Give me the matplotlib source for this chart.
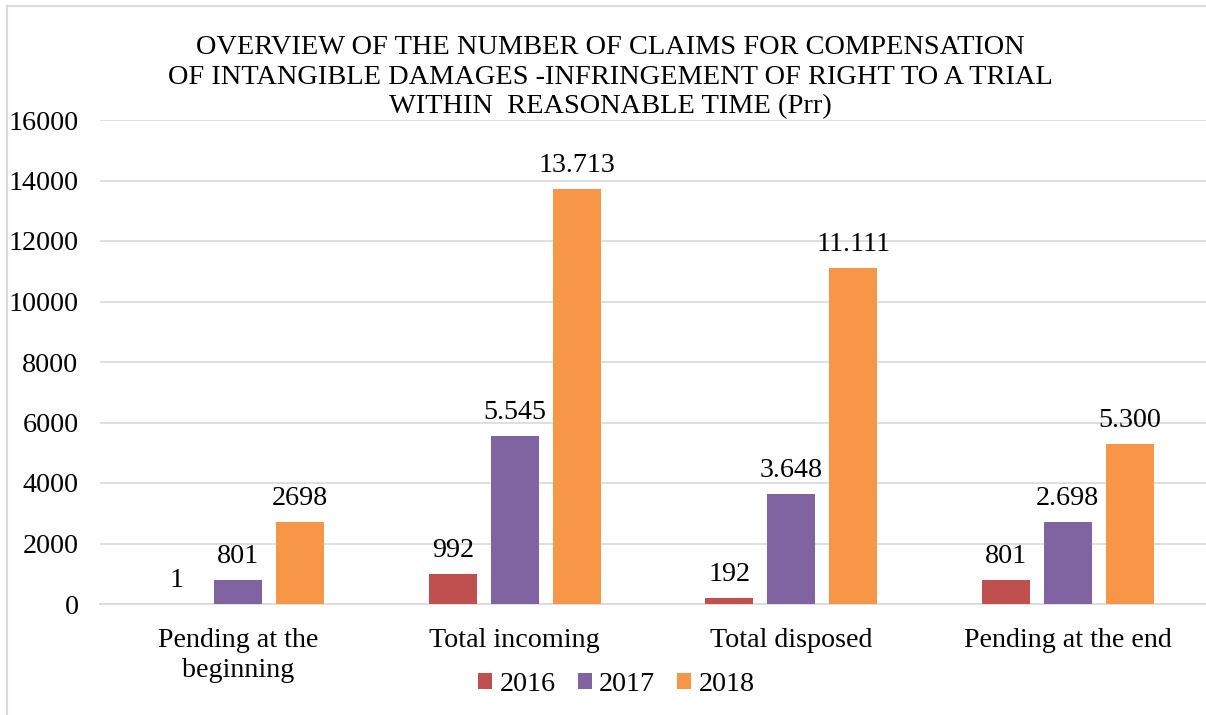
import numpy as np
import matplotlib.pyplot as plt
from matplotlib.lines import Line2D

categories = ["Pending at the\nbeginning", "Total incoming", "Total disposed", "Pending at the end"]
years = ["2016", "2017", "2018"]
v2016 = [1, 992, 192, 801]
v2017 = [801, 5545, 3648, 2698]
v2018 = [2698, 13713, 11111, 5300]
labels2016 = ["1", "992", "192", "801"]
labels2017 = ["801", "5.545", "3.648", "2.698"]
labels2018 = ["2698", "13.713", "11.111", "5.300"]
colors = ["#C0504D", "#8064A2", "#F79646"]

plt.rcParams["font.family"] = ["Liberation Serif", "DejaVu Serif"]
fs = 20.2

fig = plt.figure(figsize=(12.06, 7.15), dpi=100)
ax = fig.add_axes([100 / 1206, 111 / 715, 1106 / 1206, 484 / 715])

x = np.arange(len(categories))
step = 0.224
width = 0.173
series = [v2016, v2017, v2018]
texts = [labels2016, labels2017, labels2018]
for i, (vals, labs, col, yr) in enumerate(zip(series, texts, colors, years)):
    pos = x + (i - 1) * step
    ax.bar(pos, vals, width=width, color=col, label=yr, zorder=3)
    for p, v, t in zip(pos, vals, labs):
        ax.annotate(t, (p, v), xytext=(0, 8), textcoords="offset points",
                    ha="center", va="bottom", fontsize=fs)

ax.set_xlim(-0.5, 3.5)
ax.set_ylim(0, 16000)
ax.set_yticks(np.arange(0, 16001, 2000))
ax.yaxis.grid(True, color="#D9D9D9", linewidth=1.2, zorder=0)
ax.set_xticks(x)
ax.set_xticklabels(categories, fontsize=fs, linespacing=1.3)
ax.tick_params(axis="y", length=0, pad=15.5, labelsize=fs)
ax.tick_params(axis="x", length=0, pad=17)
for s in ["top", "right", "left"]:
    ax.spines[s].set_visible(False)
ax.spines["bottom"].set_color("#D9D9D9")
ax.spines["bottom"].set_linewidth(1.2)

fig.text(0.506, 0.951,
         "OVERVIEW OF THE NUMBER OF CLAIMS FOR COMPENSATION\n"
         "OF INTANGIBLE DAMAGES -INFRINGEMENT OF RIGHT TO A TRIAL\n"
         "WITHIN  REASONABLE TIME (Prr)",
         ha="center", va="top", fontsize=20.4, linespacing=1.24)

ax.legend(loc="center", bbox_to_anchor=(0.467, -0.167), ncol=3, frameon=False,
          fontsize=fs, handlelength=0.5, handleheight=0.5, handletextpad=0.25,
          columnspacing=0.8)

# outer chart border
fig.add_artist(Line2D([7 / 1206, 7 / 1206], [0, 1 - 6 / 715], transform=fig.transFigure,
                      color="#D9D9D9", linewidth=1.5))
fig.add_artist(Line2D([7 / 1206, 1], [1 - 6 / 715, 1 - 6 / 715], transform=fig.transFigure,
                      color="#D9D9D9", linewidth=1.5))

fig.savefig("out.png", dpi=100)
